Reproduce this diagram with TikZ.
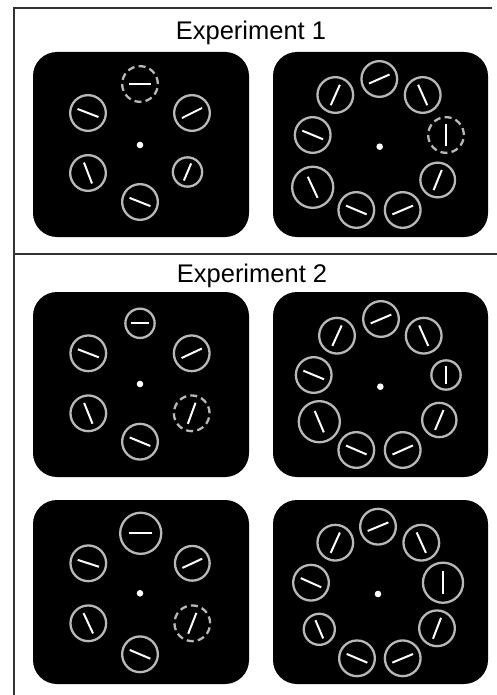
\documentclass[tikz,border=0pt]{standalone}
\usepackage{fontspec}
\setmainfont{Liberation Sans}
\begin{document}
\begin{tikzpicture}[x=1pt,y=-1pt,
  frameline/.style={line width=2pt,draw=black!80},
  display/.style={fill=black,rounded corners=24pt},
  ring/.style={draw=black!28,line width=2.3pt},
  probe/.style={dash pattern=on 7pt off 4.2pt},
  bar/.style={draw=white,line width=2pt},
  fixation/.style={fill=white},
  heading/.style={anchor=base,inner sep=0pt,font=\fontsize{25.5}{30}\selectfont}]
\useasboundingbox (0,0) rectangle (497,695);

% outer frame and the divider between the two experiments
\draw[frameline] (14,695) -- (14,8) -- (492,8);
\draw[frameline] (14,254) -- (497,254);

\node[heading] (title1) at (251,39.5) {Experiment 1};
\node[heading] (title2) at (252,282.5) {Experiment 2};

% one grating: #2,#3 centre, #4 outer radius, #5 orientation (deg, counter-clockwise)
\newcommand\ringitem[5][]{%
  \pgfmathsetmacro\rpath{#4-1.15}%
  \pgfmathsetmacro\hl{min(0.59*#4,11.6)}%
  \draw[ring,#1] (#2,#3) circle[radius=\rpath pt];
  \draw[bar] ({#2+\hl*cos(#5)},{#3-\hl*sin(#5)}) -- ({#2-\hl*cos(#5)},{#3+\hl*sin(#5)});
}

% ---------- Experiment 1, set size 6 ----------
\fill[display] (33,52) rectangle (249,237);
\fill[fixation] (140,145) circle[radius=3.3pt];
\ringitem[probe]{140}{84}{19}{0}
\ringitem{192}{113}{19}{26.6}
\ringitem{187.5}{172}{15.8}{67}
\ringitem{140}{202}{19}{-21.6}
\ringitem{88}{173}{19}{-69}
\ringitem{88}{113}{19}{-21}

% ---------- Experiment 1, set size 9 ----------
\fill[display] (273,52) rectangle (488,237);
\fill[fixation] (379.7,146.7) circle[radius=3.3pt];
\ringitem{379.3}{79}{19}{23.7}
\ringitem{422.7}{95}{19}{-66}
\ringitem[probe]{446}{135}{19}{90}
\ringitem{437.7}{180}{18.5}{68}
\ringitem{402.7}{210}{19}{23}
\ringitem{356.3}{210}{19}{-23}
\ringitem{312.7}{187.3}{21.7}{-65}
\ringitem{312.7}{135}{19}{-22.6}
\ringitem{335.3}{95}{19}{66}

% ---------- Experiment 2, set size 6, first display ----------
\fill[display] (33,292) rectangle (249,477);
\fill[fixation] (140,384) circle[radius=3.3pt];
\ringitem{140}{323.3}{15.8}{0}
\ringitem{191.7}{353.3}{19}{25}
\ringitem[probe]{191.7}{413.3}{19}{70}
\ringitem{140}{441.7}{19}{-22.5}
\ringitem{88.3}{413.3}{19}{-68}
\ringitem{88.3}{353.3}{19}{-21}

% ---------- Experiment 2, set size 9, first display ----------
\fill[display] (273,292) rectangle (488,477);
\fill[fixation] (380.3,386.7) circle[radius=3.3pt];
\ringitem{381}{319}{19}{23}
\ringitem{423.7}{335.7}{19}{-66}
\ringitem{446}{375}{15.8}{90}
\ringitem{439.3}{420}{18.3}{67}
\ringitem{402.7}{450}{19}{24}
\ringitem{356.3}{450}{19}{-23.4}
\ringitem{319.3}{421.7}{21.7}{-67}
\ringitem{313.7}{375}{19}{-22.6}
\ringitem{337}{335.7}{19}{65.5}

% ---------- Experiment 2, set size 6, second display ----------
\fill[display] (33,500) rectangle (249,684);
\fill[fixation] (140,593.3) circle[radius=3.3pt];
\ringitem{140.7}{533.3}{21.7}{0}
\ringitem{192.3}{563.3}{18.5}{25}
\ringitem[probe]{192.3}{623.3}{19}{68.5}
\ringitem{140}{654.3}{19}{-23}
\ringitem{88.3}{623.3}{19}{-65}
\ringitem{88.3}{563.3}{19}{-18}

% ---------- Experiment 2, set size 9, second display ----------
\fill[display] (273,500) rectangle (488,684);
\fill[fixation] (378,594) circle[radius=3.3pt];
\ringitem{378}{526.7}{19}{22.6}
\ringitem{421.3}{542.7}{19}{-65.6}
\ringitem{443}{582.7}{21.2}{90}
\ringitem{437}{628.3}{19}{69}
\ringitem{402.7}{658.3}{19}{22.6}
\ringitem{357}{658.3}{19}{-23}
\ringitem{319.3}{629.3}{16.7}{-67}
\ringitem{311}{582.7}{19}{-24}
\ringitem{335.3}{542.7}{19}{65.6}
\end{tikzpicture}
\end{document}
